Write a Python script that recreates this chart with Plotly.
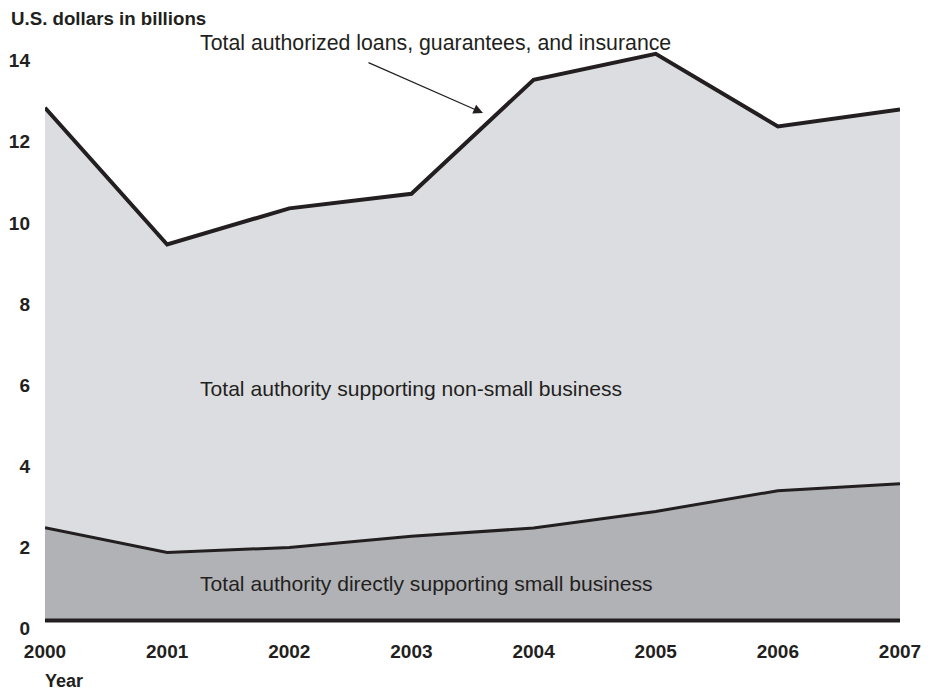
import plotly.graph_objects as go

years = [2000, 2001, 2002, 2003, 2004, 2005, 2006, 2007]
total_authorized = [12.64, 9.27, 10.16, 10.52, 13.33, 13.97, 12.18, 12.60]
small_business = [2.29, 1.68, 1.80, 2.08, 2.28, 2.69, 3.20, 3.37]
y_ticks = [0, 2, 4, 6, 8, 10, 12, 14]

INK = "#231f20"
LIGHT = "#dcdde0"
DARK = "#b1b2b6"
FONT = "Liberation Sans, Arial, sans-serif"

W, H = 940, 692
ML, MR, MT, MB = 45, 40, 12, 69
YMIN, YMAX = -0.06, 15.0

def px_to_paper_x(px):
    return (px - ML) / (W - ML - MR)

def px_to_paper_y(py):
    return (H - MB - py) / (H - MT - MB)

fig = go.Figure()
fig.add_trace(go.Scatter(
    x=years, y=total_authorized, mode="lines", fill="tozeroy",
    fillcolor=LIGHT, line=dict(color=INK, width=4), hoverinfo="skip",
    name="Total authorized loans, guarantees, and insurance"))
fig.add_trace(go.Scatter(
    x=years, y=small_business, mode="lines", fill="tozeroy",
    fillcolor=DARK, line=dict(color=INK, width=3), hoverinfo="skip",
    name="Total authority directly supporting small business"))
fig.add_trace(go.Scatter(
    x=[years[0], years[-1]], y=[0, 0], mode="lines",
    line=dict(color=INK, width=4), hoverinfo="skip", name="baseline"))

fig.update_layout(
    width=W, height=H,
    margin=dict(l=ML, r=MR, t=MT, b=MB, autoexpand=False),
    paper_bgcolor="white", plot_bgcolor="white",
    showlegend=False,
    font=dict(family=FONT, color=INK),
    xaxis=dict(range=[years[0], years[-1]], tickvals=years,
               ticktext=[str(y) for y in years], automargin=False,
               showgrid=False, zeroline=False, showline=False, ticks="",
               tickfont=dict(size=19, family="Liberation Sans", weight="bold", color=INK),
               ticklabelstandoff=15),
    yaxis=dict(range=[YMIN, YMAX], tickvals=y_ticks, automargin=False,
               showgrid=False, zeroline=False, showline=False, ticks="",
               tickfont=dict(size=19, family="Liberation Sans", weight="bold", color=INK),
               ticklabelstandoff=14, ticklabelshift=8),
)

annotations = [
    dict(text="<b>U.S. dollars in billions</b>", xref="paper", yref="paper",
         x=px_to_paper_x(9), y=px_to_paper_y(18), xanchor="left", yanchor="middle",
         showarrow=False, font=dict(size=18.7, color=INK)),
    dict(text="<b>Year</b>", xref="paper", yref="paper",
         x=px_to_paper_x(43), y=px_to_paper_y(681), xanchor="left", yanchor="middle",
         showarrow=False, font=dict(size=18, color=INK)),
    dict(text="Total authorized loans, guarantees, and insurance", xref="paper", yref="paper",
         x=px_to_paper_x(198), y=px_to_paper_y(43), xanchor="left", yanchor="middle",
         showarrow=False, font=dict(size=21.3, color=INK)),
    dict(text="Total authority supporting non-small business", xref="paper", yref="paper",
         x=px_to_paper_x(198), y=px_to_paper_y(388), xanchor="left", yanchor="middle",
         showarrow=False, font=dict(size=21.1, color=INK)),
    dict(text="Total authority directly supporting small business", xref="paper", yref="paper",
         x=px_to_paper_x(198), y=px_to_paper_y(583), xanchor="left", yanchor="middle",
         showarrow=False, font=dict(size=21.1, color=INK)),
    dict(text="", xref="paper", yref="paper",
         x=px_to_paper_x(483), y=px_to_paper_y(113), ax=-116, ay=-51,
         showarrow=True, arrowhead=2, arrowsize=1.6, arrowwidth=1.2, arrowcolor=INK),
]
fig.update_layout(annotations=annotations)

fig.write_html("out.html", config={"displayModeBar": False},
               post_script="document.body.style.margin='0';document.body.style.overflow='hidden';")
